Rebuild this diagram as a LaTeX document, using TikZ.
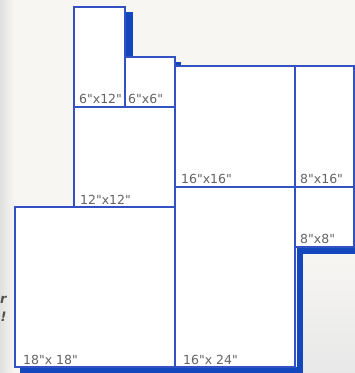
\documentclass[tikz,border=0pt]{standalone}
\usepackage{fontspec}
\newfontfamily\sizefont{DejaVu Sans}
\usetikzlibrary{positioning}
\definecolor{tileblue}{RGB}{50,82,196}
\definecolor{shadeblue}{RGB}{20,70,190}
\definecolor{labelgrey}{RGB}{100,100,100}
\definecolor{paper}{RGB}{247,246,243}

\tikzset{
  tile/.style={rectangle, draw=tileblue, line width=1.4pt, fill=white,
               inner sep=0pt, outer sep=0pt, anchor=north west},
  sizelabel/.style={text=labelgrey, font=\sizefont\fontsize{12.5}{12.5}\selectfont,
                    inner sep=0pt, anchor=base west},
  shadowline/.style={draw=shadeblue, line width=6pt},
  fragment/.style={text=labelgrey!80!black, font=\sizefont\itshape\bfseries\fontsize{13}{13}\selectfont,
                   inner sep=0pt, anchor=west},
}

\begin{document}
\begin{tikzpicture}[x=1pt,y=-1pt]
  \useasboundingbox (0,0) rectangle (355,373);
  \fill[paper] (0,0) rectangle (355,373);
  \shade[left color=black!12, right color=paper] (0,0) rectangle (14,373);
  \shade[top color=paper, bottom color=black!9] (299,250) rectangle (355,373);

  % shadows behind the tiles
  \draw[shadowline, line width=7pt] (129,12) -- (129,58);
  \draw[shadowline, line width=5pt] (178,62) -- (178,67);
  \draw[shadowline] (20,370) -- (299.5,370) -- (299.5,250.5) -- (355,250.5);

  % tiles
  \node[tile, minimum width=51pt,  minimum height=100pt] (t6x12)  at (74,7)    {};
  \node[tile, minimum width=50pt,  minimum height=50pt]  (t6x6)   at (125,57)  {};
  \node[tile, minimum width=101pt, minimum height=100pt] (t12x12) at (74,107)  {};
  \node[tile, minimum width=160pt, minimum height=160pt] (t18x18) at (15,207)  {};
  \node[tile, minimum width=120pt, minimum height=121pt] (t16x16) at (175,66)  {};
  \node[tile, minimum width=59pt,  minimum height=121pt] (t8x16)  at (295,66)  {};
  \node[tile, minimum width=59pt,  minimum height=60pt]  (t8x8)   at (295,187) {};
  \node[tile, minimum width=120pt, minimum height=180pt] (t16x24) at (175,187) {};

  % sizes
  \node[sizelabel] (l6x12)  at ([xshift=5pt,yshift=4pt]t6x12.south west)  {6"x12"};
  \node[sizelabel] (l6x6)   at ([xshift=3pt,yshift=4pt]t6x6.south west)   {6"x6"};
  \node[sizelabel] (l12x12) at ([xshift=6pt,yshift=3pt]t12x12.south west) {12"x12"};
  \node[sizelabel] (l18x18) at ([xshift=8pt,yshift=3pt]t18x18.south west) {18"x 18"};
  \node[sizelabel] (l16x16) at ([xshift=6pt,yshift=4pt]t16x16.south west) {16"x16"};
  \node[sizelabel] (l8x16)  at ([xshift=5pt,yshift=4pt]t8x16.south west)  {8"x16"};
  \node[sizelabel] (l8x8)   at ([xshift=5pt,yshift=4pt]t8x8.south west)   {8"x8"};
  \node[sizelabel] (l16x24) at ([xshift=8pt,yshift=3pt]t16x24.south west) {16"x 24"};

  % cut-off text at the left edge
  \node[fragment] (frag1) at (0,300) {r};
  \node[fragment] (frag2) at (0.5,317) {!};
\end{tikzpicture}
\end{document}
